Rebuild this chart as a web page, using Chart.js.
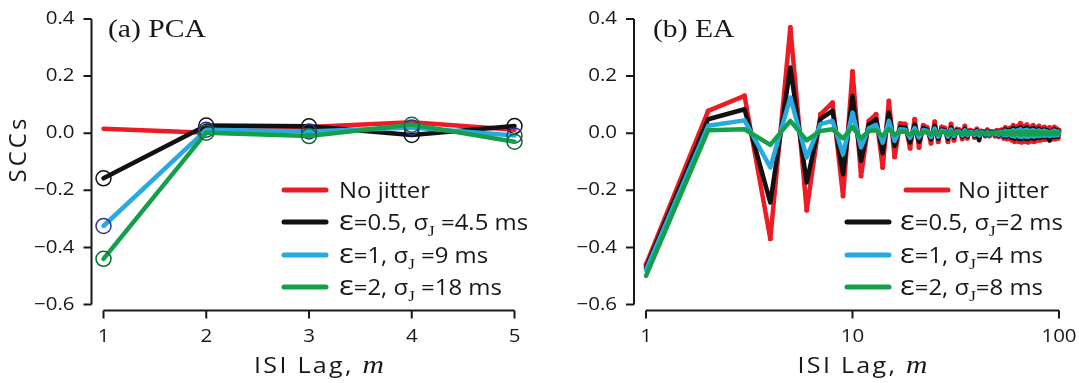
<!DOCTYPE html>
<html>
<head>
<meta charset="utf-8">
<script src="https://cdn.jsdelivr.net/npm/chart.js@4.4.0/dist/chart.umd.min.js"></script>
<style>
  html, body { margin: 0; padding: 0; background: #fff; overflow: hidden; }
  #wrap { position: relative; width: 1079px; height: 383px; }
  canvas { position: absolute; top: 0; }
</style>
</head>
<body>
<div id="wrap">
  <canvas id="pcaChart" width="540" height="383" style="left:0"></canvas>
  <canvas id="eaChart" width="539" height="383" style="left:540px"></canvas>
</div>
<script>
// ---- data ----
// (a) PCA, lags 1..5
const lagsA = [1, 2, 3, 4, 5];
const pcaNoJitter = [0.016, 0.002, 0.022, 0.038, 0.012];
const pcaEps05 = [-0.158, 0.027, 0.024, -0.006, 0.025];
const pcaEps1 = [-0.325, 0.012, 0.006, 0.02, -0.008];
const pcaEps2 = [-0.44, 0.002, -0.01, 0.03, -0.03];
const labelsA = ['No jitter', 'ε=0.5, σ_J =4.5 ms', 'ε=1, σ_J =9 ms', 'ε=2, σ_J =18 ms'];

// (b) EA, lags 1..100 (log axis)
const lagsB = [
  1, 2, 3, 4, 5, 6, 7, 8, 9, 10,
  11, 12, 13, 14, 15, 16, 17, 18, 19, 20,
  21, 22, 23, 24, 25, 26, 27, 28, 29, 30,
  31, 32, 33, 34, 35, 36, 37, 38, 39, 40,
  41, 42, 43, 44, 45, 46, 47, 48, 49, 50,
  51, 52, 53, 54, 55, 56, 57, 58, 59, 60,
  61, 62, 63, 64, 65, 66, 67, 68, 69, 70,
  71, 72, 73, 74, 75, 76, 77, 78, 79, 80,
  81, 82, 83, 84, 85, 86, 87, 88, 89, 90,
  91, 92, 93, 94, 95, 96, 97, 98, 99, 100
];
const eaNoJitter = [
  -0.46, 0.078, 0.131, -0.37, 0.37, -0.27, 0.066, 0.107, -0.22, 0.216,
  -0.15, 0.043, 0.066, -0.12, 0.113, -0.083, 0.034, 0.032, -0.053, 0.049,
  -0.05, 0.028, 0.02, -0.035, 0.04, -0.03, 0.022, 0.018, -0.03, 0.032,
  -0.025, 0.015, 0.012, -0.02, 0.025, -0.018, 0.01, 0.008, -0.015, 0.015,
  -0.012, 0.008, 0.006, -0.01, 0.012, -0.01, 0.006, 0.005, -0.01, 0.01,
  -0.012, 0.01, 0.012, -0.018, 0.02, -0.02, 0.015, 0.018, -0.025, 0.028,
  -0.03, 0.02, 0.025, -0.03, 0.035, -0.032, 0.022, 0.025, -0.03, 0.03,
  -0.032, 0.02, 0.022, -0.028, 0.028, -0.03, 0.02, 0.018, -0.025, 0.025,
  -0.025, 0.015, 0.018, -0.022, 0.022, -0.022, 0.015, 0.015, -0.02, 0.02,
  -0.022, 0.012, 0.015, -0.02, 0.022, -0.02, 0.012, 0.015, -0.018, 0.01
];
const eaEps05 = [
  -0.472, 0.049, 0.084, -0.243, 0.23, -0.173, 0.05, 0.078, -0.144, 0.13,
  -0.097, 0.031, 0.049, -0.07, 0.072, -0.045, 0.022, 0.02, -0.032, 0.03,
  -0.03, 0.018, 0.012, -0.022, 0.026, -0.02, 0.014, 0.011, -0.02, 0.02,
  -0.016, 0.01, 0.008, -0.013, 0.016, -0.012, 0.006, 0.005, -0.01, 0.01,
  -0.025, 0.005, 0.004, -0.007, 0.008, -0.006, 0.004, 0.003, -0.006, 0.006,
  -0.008, 0.006, 0.008, -0.012, 0.013, -0.013, 0.01, 0.012, -0.016, 0.018,
  -0.02, 0.013, 0.016, -0.02, 0.022, -0.021, 0.014, 0.016, -0.02, 0.02,
  -0.021, 0.013, 0.014, -0.018, 0.018, -0.02, 0.013, 0.012, -0.016, 0.016,
  -0.016, 0.01, 0.012, -0.014, 0.014, -0.014, 0.01, 0.01, -0.013, -0.026,
  -0.014, 0.008, 0.01, -0.013, 0.014, -0.013, 0.008, 0.01, -0.012, 0.006
];
const eaEps1 = [
  -0.48, 0.026, 0.045, -0.12, 0.125, -0.085, 0.032, 0.043, -0.074, 0.072,
  -0.05, 0.017, 0.029, -0.033, 0.043, -0.027, 0.014, 0.012, -0.016, 0.018,
  -0.015, 0.011, 0.008, -0.014, 0.016, -0.012, 0.009, 0.007, -0.012, 0.013,
  -0.01, 0.006, 0.005, -0.008, 0.01, -0.007, 0.004, 0.003, -0.006, 0.006,
  -0.008, 0.003, 0.002, -0.004, 0.005, -0.004, 0.002, 0.002, -0.004, 0.004,
  -0.005, 0.004, 0.005, -0.007, 0.008, -0.008, 0.006, 0.007, -0.01, 0.011,
  -0.012, 0.008, 0.01, -0.012, 0.014, -0.013, 0.009, 0.01, -0.012, 0.012,
  -0.013, 0.008, 0.009, -0.011, 0.011, -0.012, 0.008, 0.007, -0.01, 0.01,
  -0.01, 0.006, 0.007, -0.009, 0.009, -0.009, 0.006, 0.006, -0.008, -0.01,
  -0.009, 0.005, 0.006, -0.008, 0.009, -0.008, 0.005, 0.006, -0.007, 0.004
];
const eaEps2 = [
  -0.5, 0.01, 0.014, -0.041, 0.043, -0.025, 0.008, 0.014, -0.018, 0.022,
  -0.018, 0.008, 0.01, -0.01, 0.014, -0.006, 0.006, 0.005, -0.005, 0.006,
  -0.004, 0.004, 0.003, -0.005, 0.006, -0.004, 0.003, 0.003, -0.004, 0.005,
  -0.004, 0.002, 0.002, -0.003, 0.004, -0.003, 0.001, 0.001, -0.002, 0.002,
  -0.002, 0.001, 0.001, -0.002, 0.002, -0.001, 0.001, 0.001, -0.001, 0.002,
  -0.002, 0.001, 0.002, -0.003, 0.003, -0.003, 0.002, 0.003, -0.004, 0.004,
  -0.005, 0.003, 0.004, -0.004, 0.005, -0.005, 0.003, 0.004, -0.004, 0.005,
  -0.005, 0.003, 0.003, -0.004, 0.004, -0.004, 0.003, 0.003, -0.004, 0.004,
  -0.004, 0.002, 0.003, -0.003, 0.003, -0.003, 0.002, 0.002, -0.003, 0.003,
  -0.003, 0.002, 0.002, -0.003, 0.003, -0.003, 0.002, 0.002, -0.002, 0.001
];
const labelsB = ['No jitter', 'ε=0.5, σ_J=2 ms', 'ε=1, σ_J=4 ms', 'ε=2, σ_J=8 ms'];

// ticks
const yTickVals = [-0.6, -0.4, -0.2, 0, 0.2, 0.4];
const yTickLabels = ['−0.6', '−0.4', '−0.2', '0.0', '0.2', '0.4'];
const xTickValsA = [1, 2, 3, 4, 5];
const xTickValsB = [1, 10, 100];

// ---- styling ----
const RED = '#ed1c24', BLACK = '#111111', BLUE = '#27aae1', GREEN = '#14a04a';
const INK = '#1a1718';
const SX = 1.14; // the figure's lettering is a bit wider than the fonts we have
const TICK_FONT = '18px "Open Sans"';
const TEXT_FONT = '21px "Open Sans"';
const EPS_FONT = '27px "Open Sans"';
const SUB_FONT = '15px "Liberation Serif"';

function drawStretched(ctx, str, x, y, font, align, spacing) {
  ctx.save();
  ctx.font = font;
  ctx.letterSpacing = (spacing || 0) + 'px';
  const w = ctx.measureText(str).width * SX;
  let x0 = x;
  if (align === 'right') x0 = x - w;
  else if (align === 'center') x0 = x - w / 2;
  ctx.translate(x0, y);
  ctx.scale(SX, 1);
  ctx.textAlign = 'left';
  ctx.fillText(str, 0, 0);
  ctx.restore();
  return w;
}

// label like 'ε=1, σ_J =9 ms' -> subscript J, epsilon set a bit larger as in the figure
function drawLabel(ctx, label, x, y) {
  const parts = label.split(/_(\w)/);
  let cx = x;
  parts.forEach((p, k) => {
    if (!p) return;
    if (k % 2 === 1) {
      cx += drawStretched(ctx, p, cx, y + 6, SUB_FONT, 'left');
      return;
    }
    if (p[0] === 'ε') {
      cx += drawStretched(ctx, 'ε', cx, y, EPS_FONT, 'left');
      p = p.slice(1);
    }
    cx += drawStretched(ctx, p, cx, y, TEXT_FONT, 'left');
  });
}

const decor = {
  id: 'decor',
  beforeDatasetsDraw(chart, args, o) {
    const ctx = chart.ctx, xs = chart.scales.x, ys = chart.scales.y, ca = chart.chartArea;
    const axX = ca.left - 12, axY = ca.bottom + 6;
    ctx.save();
    ctx.strokeStyle = INK;
    ctx.lineWidth = 2;
    ctx.beginPath();
    ctx.moveTo(axX, ys.getPixelForValue(ys.max));
    ctx.lineTo(axX, ys.getPixelForValue(ys.min));
    ys.ticks.forEach(t => {
      const py = ys.getPixelForValue(t.value);
      ctx.moveTo(axX - 8, py);
      ctx.lineTo(axX, py);
    });
    ctx.moveTo(xs.getPixelForValue(xs.min), axY);
    ctx.lineTo(xs.getPixelForValue(xs.max), axY);
    xs.ticks.forEach(t => {
      const px = xs.getPixelForValue(t.value);
      ctx.moveTo(px, axY);
      ctx.lineTo(px, axY + 8);
    });
    ctx.stroke();

    // tick labels
    ctx.fillStyle = INK;
    ctx.textBaseline = 'middle';
    ys.ticks.forEach((t, i) => {
      drawStretched(ctx, yTickLabels[i], axX - 17, ys.getPixelForValue(t.value), TICK_FONT, 'right');
    });
    xs.ticks.forEach(t => {
      drawStretched(ctx, String(t.value), xs.getPixelForValue(t.value), 337, TICK_FONT, 'center');
    });
    ctx.restore();
  },
  afterDatasetsDraw(chart, args, o) {
    const ctx = chart.ctx, ca = chart.chartArea;
    ctx.save();
    ctx.fillStyle = INK;
    ctx.textBaseline = 'alphabetic';

    // panel label
    drawStretched(ctx, o.panel, o.panelX, 37, '26px "Liberation Serif"', 'left');

    // x title: "ISI Lag, m"
    ctx.font = '22px "Open Sans"';
    ctx.letterSpacing = '2px';
    const w1 = ctx.measureText('ISI Lag, ').width * SX;
    ctx.font = 'italic 26px "Liberation Serif"';
    ctx.letterSpacing = '0px';
    const w2 = ctx.measureText('m').width * SX;
    const x0 = (ca.left + ca.right) / 2 + 10 - (w1 + w2) / 2;
    drawStretched(ctx, 'ISI Lag, ', x0, 373, '22px "Open Sans"', 'left', 2);
    drawStretched(ctx, 'm', x0 + w1, 373, 'italic 26px "Liberation Serif"', 'left');

    // y title
    if (o.yTitle) {
      ctx.save();
      ctx.translate(19, 149);
      ctx.rotate(-Math.PI / 2);
      ctx.font = '24px "Open Sans"';
      ctx.letterSpacing = '3px';
      ctx.textAlign = 'center';
      ctx.textBaseline = 'middle';
      ctx.fillText(o.yTitle, 0, 0);
      ctx.restore();
    }

    // legend
    chart.data.datasets.forEach((ds, i) => {
      const y = o.legendY[i];
      ctx.strokeStyle = ds.borderColor;
      ctx.lineWidth = 5;
      ctx.lineCap = 'round';
      ctx.beginPath();
      ctx.moveTo(o.swatchX[i], y);
      ctx.lineTo(o.swatchX[i] + 42, y);
      ctx.stroke();
      ctx.fillStyle = INK;
      drawLabel(ctx, ds.label, o.textX[i], y + 8);
    });
    ctx.restore();
  }
};

function series(xs, ys) {
  return xs.map((x, i) => ({ x: x, y: ys[i] }));
}

function makeChart(id, xScale, datasets, deco, padRight, yWidth) {
  return new Chart(document.getElementById(id), {
    type: 'line',
    data: { datasets: datasets },
    options: {
      responsive: false,
      animation: false,
      devicePixelRatio: 1,
      layout: { padding: { left: 0, top: 19, right: padRight, bottom: 0 } },
      plugins: { legend: { display: false }, tooltip: { enabled: false }, decor: deco },
      elements: {
        line: { tension: 0, borderWidth: 4.5, borderJoinStyle: 'round', borderCapStyle: 'round' },
        point: { radius: 0 }
      },
      scales: {
        x: Object.assign({
          grid: { display: false, drawTicks: false },
          border: { display: false },
          ticks: { display: false },
          afterFit: s => { s.height = 78.5; }
        }, xScale),
        y: {
          min: -0.6, max: 0.4,
          grid: { display: false, drawTicks: false },
          border: { display: false },
          ticks: { display: false },
          afterBuildTicks: s => { s.ticks = yTickVals.map(v => ({ value: v })); },
          afterFit: s => { s.width = yWidth; }
        }
      }
    },
    plugins: [decor]
  });
}

function circles(color) {
  return {
    pointRadius: 7.5, pointBorderWidth: 1.5,
    pointBorderColor: color, pointBackgroundColor: 'rgba(0,0,0,0)', pointStyle: 'circle'
  };
}

// (a) PCA
makeChart('pcaChart', {
  type: 'linear', min: 1, max: 5,
  afterBuildTicks: s => { s.ticks = xTickValsA.map(v => ({ value: v })); }
}, [
  { label: labelsA[0], data: series(lagsA, pcaNoJitter), borderColor: RED, order: 4, clip: false, pointRadius: 0 },
  Object.assign({ label: labelsA[1], data: series(lagsA, pcaEps05), borderColor: BLACK, order: 3, clip: false }, circles('#111111')),
  Object.assign({ label: labelsA[2], data: series(lagsA, pcaEps1), borderColor: BLUE, order: 2, clip: false }, circles('#2e3192')),
  Object.assign({ label: labelsA[3], data: series(lagsA, pcaEps2), borderColor: GREEN, order: 1, clip: false }, circles('#0e6a33'))
], {
  panel: '(a) PCA', panelX: 108, yTitle: 'SCCs',
  legendY: [190, 222, 255, 287],
  swatchX: [284, 284, 284, 284],
  textX: [339, 339, 339, 339]
}, 25.5, 103.5);

// (b) EA
makeChart('eaChart', {
  type: 'logarithmic', min: 1, max: 100,
  afterBuildTicks: s => { s.ticks = xTickValsB.map(v => ({ value: v })); }
}, [
  { label: labelsB[0], data: series(lagsB, eaNoJitter), borderColor: RED, order: 4, clip: false,
    pointRadius: 2.5, pointBorderWidth: 0, pointBackgroundColor: RED },
  { label: labelsB[1], data: series(lagsB, eaEps05), borderColor: BLACK, order: 3, clip: false },
  { label: labelsB[2], data: series(lagsB, eaEps1), borderColor: BLUE, order: 2, clip: false },
  { label: labelsB[3], data: series(lagsB, eaEps2), borderColor: GREEN, order: 1, clip: false }
], {
  panel: '(b) EA', panelX: 113, yTitle: '',
  legendY: [190, 222, 255, 287],
  swatchX: [366, 307, 307, 307],
  textX: [418, 360, 360, 360]
}, 20, 106);
</script>
</body>
</html>
